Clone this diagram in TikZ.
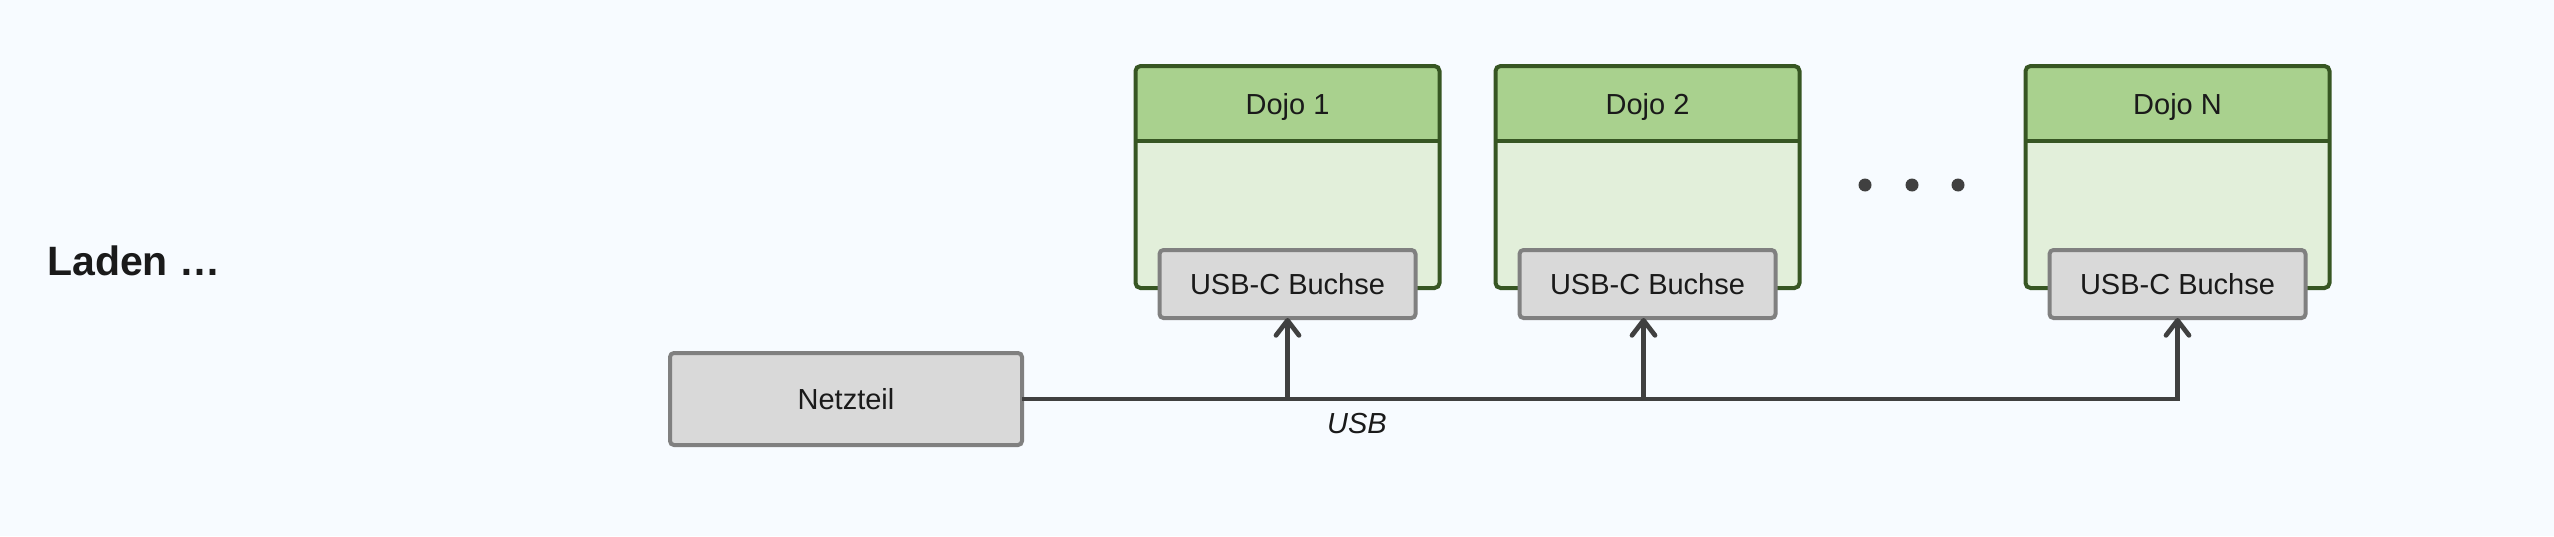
\documentclass[tikz,border=0pt]{standalone}
\usepackage{fontspec}
\setmainfont{Liberation Sans}
\usetikzlibrary{arrows.meta}

\definecolor{bgcol}{HTML}{F7FBFF}
\definecolor{dojohead}{HTML}{A9D18E}
\definecolor{dojobody}{HTML}{E2EFDA}
\definecolor{dojoline}{HTML}{375623}
\definecolor{boxfill}{HTML}{D9D9D9}
\definecolor{boxline}{HTML}{808080}
\definecolor{wire}{HTML}{404040}
\definecolor{ink}{HTML}{1A1A1A}

\newcommand{\labelfont}{\fontsize{29}{34}\selectfont}
\newcommand{\titlefont}{\fontsize{41}{48}\selectfont\bfseries}

\tikzset{
  dojo/.style={minimum width=304pt, minimum height=222pt, inner sep=0pt,
    outer sep=0pt, fill=dojobody},
  dojotitle/.style={minimum width=304pt, minimum height=75pt, inner sep=0pt,
    outer sep=0pt, fill=dojohead, text=ink, font=\labelfont, text depth=0pt},
  dojoframe/.style={draw=dojoline, line width=4pt, rounded corners=5pt},
  socket/.style={draw=boxline, fill=boxfill, line width=4pt, rounded corners=4pt,
    minimum width=256pt, minimum height=68pt, inner sep=0pt, outer sep=0pt,
    text=ink, font=\labelfont},
  supply/.style={socket, minimum width=352pt, minimum height=92pt},
  bus/.style={draw=wire, line width=4.7pt},
  feed/.style={bus, -{Straight Barb[length=15pt, width=23pt, round]}},
}

\begin{document}
\begin{tikzpicture}[x=1pt, y=-1pt]
  \fill[bgcol] (0,0) rectangle (2554,536);
  \useasboundingbox (0,0) rectangle (2554,536);

  \node[anchor=base west, inner sep=0pt, text=ink, font=\titlefont] (laden) at (47,275) {Laden \dots};

  % dojos
  \foreach \x/\n/\t in {1287.5/1/Dojo 1, 1647.5/2/Dojo 2, 2177.5/N/Dojo N} {
    \node[dojo] (dojo\n) at (\x,177) {};
    \node[dojotitle, anchor=north] (dojo\n-title) at (dojo\n.north) {\t};
    \draw[dojoframe] (dojo\n-title.south west) -- (dojo\n-title.south east);
    \draw[dojoframe] (dojo\n.north west) rectangle (dojo\n.south east);
    \node[socket] (usb\n) at (\x,284) {USB-C Buchse};
  }

  \fill[wire] (1865,185) circle (6.5) (1912,185) circle (6.5) (1958,185) circle (6.5);

  \node[supply] (netzteil) at (846,399) {Netzteil};

  % usb bus
  \draw[feed] (netzteil.east) -- (netzteil.east -| usbN.south) -- (usbN.south);
  \draw[feed] (netzteil.east -| usb1.south) -- (usb1.south);
  \draw[feed] ([xshift=-4pt]netzteil.east -| usb2.south) -- ([xshift=-4pt]usb2.south);
  \node[text=ink, font=\labelfont\itshape, inner sep=0pt] (usblabel) at (1357,424) {USB};
\end{tikzpicture}
\end{document}
